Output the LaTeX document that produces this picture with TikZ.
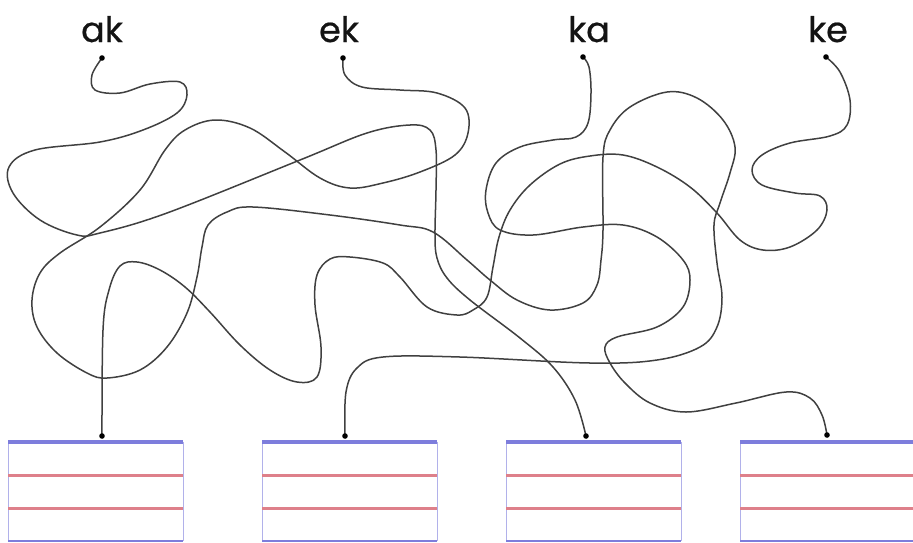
\documentclass[tikz,border=0pt]{standalone}
\usepackage{fontspec}
\newfontfamily\wordfont[FakeBold=0.6]{Poppins}
\definecolor{lineblue}{RGB}{125,125,220}
\definecolor{linered}{RGB}{222,128,138}
\begin{document}
\begin{tikzpicture}[x=1pt,y=-1pt,
  string/.style={draw=black!75,line width=1.5pt,line cap=round,line join=round},
  word/.style={font=\wordfont\fontsize{35}{40}\selectfont,text=black!92,anchor=base},
  knot/.style={fill=black}]
\useasboundingbox (0,0) rectangle (913,542);
% words and their dots
\node[word] (ak) at (102,42) {ak};
\node[word] (ek) at (339,42) {ek};
\node[word] (ka) at (589,42) {ka};
\node[word] (ke) at (828,42) {ke};
\coordinate (ak-dot) at (102,58);
\coordinate (ek-dot) at (343,58);
\coordinate (ka-dot) at (583,57);
\coordinate (ke-dot) at (826,57);
% writing lines
\foreach \l/\r [count=\i] in {8/183,262/437,506/681,740/916}{
  \draw[lineblue!60,line width=1pt] (\l,442) -- (\l,541) (\r,442) -- (\r,541);
  \draw[linered,line width=3pt] (\l,475) -- (\r,475) (\l,508) -- (\r,508);
  \draw[lineblue,line width=2pt] (\l,540.5) -- (\r,540.5);
  \draw[lineblue,line width=3.2pt] (\l,442) -- (\r,442);
}
\coordinate (box1) at (102,436);
\coordinate (box2) at (345,436);
\coordinate (box3) at (586,436);
\coordinate (box4) at (827,435);
% the tangled strings
\draw[string] plot[smooth,tension=0.6] coordinates {(ak-dot) (92,75) (95,90) (120,93)
  (150,84) (180,82) (187,95) (177,113) (143,130) (100,142) (35,150) (9,167) (13,193)
  (40,220) (77,235) (100,233) (167,213) (300,160) (367,133) (410,125) (430,130)
  (436,150) (436,190) (435,235) (437,258) (447,278) (470,300) (520,338) (553,367)
  (575,400) (box3)};
\draw[string] plot[smooth,tension=0.6] coordinates {(ek-dot) (345,75) (362,87) (400,90)
  (437,93) (465,108) (468,133) (455,155) (420,172) (383,183) (350,188) (320,178)
  (285,152) (250,128) (215,120) (185,130) (165,150) (140,190) (100,227) (60,253)
  (40,273) (32,300) (37,327) (57,353) (87,373) (107,378) (140,370) (167,347)
  (187,313) (197,277) (202,247) (208,225) (227,212) (253,207) (330,215) (400,225)
  (433,232) (467,260) (490,280) (517,300) (550,310) (583,303) (597,285) (601,260)
  (603,230) (603,157) (610,130) (630,107) (667,92) (697,98) (723,120) (735,147)
  (730,173) (720,203) (714,225) (717,263) (722,297) (717,327) (700,347) (657,360)
  (590,363) (460,357) (383,357) (357,368) (346,392) (box2)};
\draw[string] plot[smooth,tension=0.6] coordinates {(ka-dot) (589,67) (591,93) (588,123)
  (576,137) (553,140) (520,147) (496,163) (486,190) (488,213) (500,230) (533,235)
  (583,227) (623,225) (657,237) (683,260) (690,280) (683,307) (657,327) (617,337)
  (605,347) (610,363) (625,383) (650,403) (686,412) (736,403) (786,392) (810,398)
  (822,415) (box4)};
\draw[string] plot[smooth,tension=0.6] coordinates {(ke-dot) (840,72) (850,100) (847,125)
  (830,136) (790,143) (762,155) (752,170) (762,185) (795,193) (820,196) (827,210)
  (817,230) (790,247) (763,250) (740,240) (717,213) (690,187) (657,167) (623,155)
  (590,156) (560,164) (530,185) (510,210) (499,237) (493,267) (487,297) (473,310)
  (457,315) (427,307) (400,277) (383,263) (350,257) (330,259) (317,275) (315,305)
  (321,347) (317,377) (297,382) (270,370) (240,345) (210,312) (185,287) (160,270)
  (137,262) (120,266) (109,290) (103,330) (box1)};
\foreach \d in {ak-dot,ek-dot,ka-dot,ke-dot,box1,box2,box3,box4}
  \fill[knot] (\d) circle (2.8);
\end{tikzpicture}
\end{document}
